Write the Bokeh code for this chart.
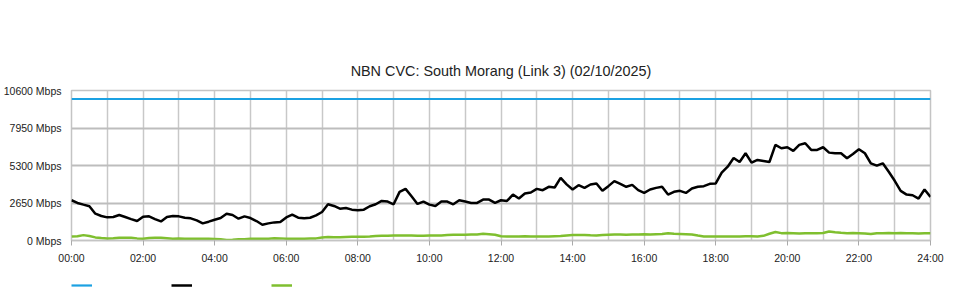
import numpy as np
from bokeh.plotting import figure
from bokeh.layouts import column
from bokeh.models import FixedTicker, Range1d, Legend, LegendItem
from bokeh.embed import file_html
from bokeh.resources import INLINE

title = "NBN CVC: South Morang (Link 3) (02/10/2025)"

# sample times, minutes after midnight (10-minute samples)
minutes = list(range(0, 1441, 10))

capacity_mbps = 10000

inbound_mbps = [
    2845, 2655, 2535, 2420, 1895, 1730, 1635, 1660, 1800, 1660,
    1515, 1375, 1685, 1705, 1515, 1350, 1660, 1730, 1705, 1610,
    1565, 1420, 1210, 1330, 1470, 1585, 1895, 1800, 1540, 1705,
    1585, 1375, 1115, 1210, 1280, 1300, 1630, 1825, 1610, 1565,
    1610, 1775, 2015, 2560, 2440, 2250, 2300, 2180, 2135, 2180,
    2420, 2560, 2795, 2750, 2560, 3435, 3650, 3130, 2585, 2750,
    2535, 2440, 2750, 2750, 2560, 2845, 2750, 2655, 2655, 2890,
    2890, 2655, 2845, 2795, 3245, 2965, 3320, 3390, 3650, 3555,
    3795, 3745, 4420, 3970, 3605, 3910, 3720, 3960, 4030, 3510,
    3840, 4195, 4005, 3795, 3935, 3555, 3365, 3605, 3720, 3795,
    3245, 3440, 3510, 3365, 3675, 3795, 3840, 4005, 4030, 4790,
    5215, 5830, 5550, 6165, 5500, 5690, 5620, 5550, 6755, 6520,
    6590, 6330, 6755, 6875, 6400, 6400, 6590, 6210, 6165, 6165,
    5810, 6115, 6450, 6165, 5455, 5285, 5455, 4860, 4220, 3510,
    3245, 3200, 2965, 3605, 3080,
]

outbound_mbps = [
    280, 300, 380, 320, 220, 170, 150, 160, 200,
    200, 190, 150, 130, 170, 190, 190, 160, 130,
    150, 130, 120, 120, 120, 120, 110, 80, 40,
    60, 90, 80, 120, 120, 120, 130, 160, 150,
    120, 120, 130, 130, 140, 150, 210, 240, 230,
    230, 250, 260, 270, 260, 280, 320, 340, 330,
    350, 360, 350, 360, 340, 330, 350, 350, 360,
    380, 400, 410, 410, 420, 430, 470, 440, 410,
    300, 290, 280, 290, 300, 290, 280, 280, 290,
    300, 310, 360, 380, 380, 390, 370, 360, 380,
    400, 420, 430, 410, 420, 430, 440, 420, 440,
    460, 520, 480, 460, 440, 420, 350, 290, 280,
    280, 280, 290, 290, 290, 300, 300, 290, 330,
    480, 600, 520, 530, 520, 500, 520, 510, 520,
    530, 640, 580, 540, 520, 530, 520, 500, 460,
    520, 510, 530, 520, 530, 510, 520, 500, 520, 510,
]

y_ticks = [0, 2650, 5300, 7950, 10600]
y_tick_labels = ["0 Mbps", "2650 Mbps", "5300 Mbps", "7950 Mbps", "10600 Mbps"]
x_ticks = list(range(0, 25, 2))
x_tick_labels = ["00:00", "02:00", "04:00", "06:00", "08:00", "10:00", "12:00",
                 "14:00", "16:00", "18:00", "20:00", "22:00", "24:00"]
x_grid_hours = list(range(0, 25))

hours = [m / 60 for m in minutes]
capacity_series = [capacity_mbps] * len(hours)

FONT = "Liberation Sans"
BLUE = "#1ba1e2"
BLACK = "#000000"
GREEN = "#7fbf2f"

p = figure(width=960, height=270, output_backend="svg", toolbar_location=None,
           x_range=Range1d(0, 24), y_range=Range1d(0, 10600),
           min_border_left=70, min_border_right=30, min_border_top=90,
           min_border_bottom=30, title=title)

p.title.align = "center"
p.title.text_font = FONT
p.title.text_font_size = "14.4px"
p.title.text_font_style = "normal"
p.title.text_color = "#222222"
p.title.standoff = 23

p.background_fill_color = "white"
p.border_fill_color = "white"
p.outline_line_color = "#c4c4c4"
p.outline_line_width = 1.5

# grids
p.xgrid.ticker = FixedTicker(ticks=x_grid_hours)
p.xgrid.grid_line_color = "#c8c8c8"
p.xgrid.grid_line_width = 1.5
p.ygrid.ticker = FixedTicker(ticks=y_ticks)
p.ygrid.grid_line_color = "#bdbdbd"
p.ygrid.grid_line_width = 2

# axes
p.yaxis.ticker = FixedTicker(ticks=y_ticks)
p.yaxis.major_label_overrides = {t: l for t, l in zip(y_ticks, y_tick_labels)}
p.yaxis.axis_line_color = None
p.yaxis.major_tick_line_color = None
p.yaxis.major_tick_out = 0
p.yaxis.major_tick_in = 0
p.yaxis.minor_tick_line_color = None
p.yaxis.minor_tick_out = 0
p.yaxis.major_label_standoff = 10
p.yaxis.major_label_text_font = FONT
p.yaxis.major_label_text_font_size = "10.5px"
p.yaxis.major_label_text_color = "#222222"

p.xaxis.ticker = FixedTicker(ticks=x_ticks)
p.xaxis.major_label_overrides = {t: l for t, l in zip(x_ticks, x_tick_labels)}
p.xaxis.axis_line_color = "#c4c4c4"
p.xaxis.axis_line_width = 1.5
p.xaxis.major_tick_line_color = "#aaaaaa"
p.xaxis.major_tick_out = 5
p.xaxis.major_tick_in = 0
p.xaxis.minor_tick_line_color = None
p.xaxis.minor_tick_out = 0
p.xaxis.major_label_standoff = 6
p.xaxis.major_label_text_font = FONT
p.xaxis.major_label_text_font_size = "10.5px"
p.xaxis.major_label_text_color = "#222222"

p.line(hours, capacity_series, line_color=BLUE, line_width=2.2)
p.line(hours, inbound_mbps, line_color=BLACK, line_width=2.5)
p.line(hours, outbound_mbps, line_color=GREEN, line_width=2.5)

# legend strip below the chart (series swatches only, no labels);
# same series drawn in a strip whose y range lies below all data, so only
# the legend swatches show
p2 = figure(width=960, height=30, output_backend="svg", toolbar_location=None,
            x_range=Range1d(0, 24), y_range=Range1d(-20000, -10000),
            x_axis_type=None, y_axis_type=None,
            min_border_left=70, min_border_right=30, min_border_top=0,
            min_border_bottom=0)
p2.outline_line_color = None
p2.background_fill_alpha = 0
p2.border_fill_alpha = 0
l_cap = p2.line(hours, capacity_series, line_color=BLUE, line_width=2.2)
l_inb = p2.line(hours, inbound_mbps, line_color=BLACK, line_width=2.5)
l_out = p2.line(hours, outbound_mbps, line_color=GREEN, line_width=2.5)

legend = Legend(items=[LegendItem(label=" ", renderers=[l_cap]),
                       LegendItem(label=" ", renderers=[l_inb]),
                       LegendItem(label=" ", renderers=[l_out])],
                orientation="horizontal", location="top_left",
                glyph_width=21, glyph_height=30, label_standoff=0,
                label_width=79, label_height=30, spacing=0, padding=0, margin=0,
                border_line_color=None, background_fill_alpha=0,
                label_text_font_size="1px")
p2.add_layout(legend, "center")

open("out.html", "w").write(file_html(column(p, p2, spacing=0), INLINE))
